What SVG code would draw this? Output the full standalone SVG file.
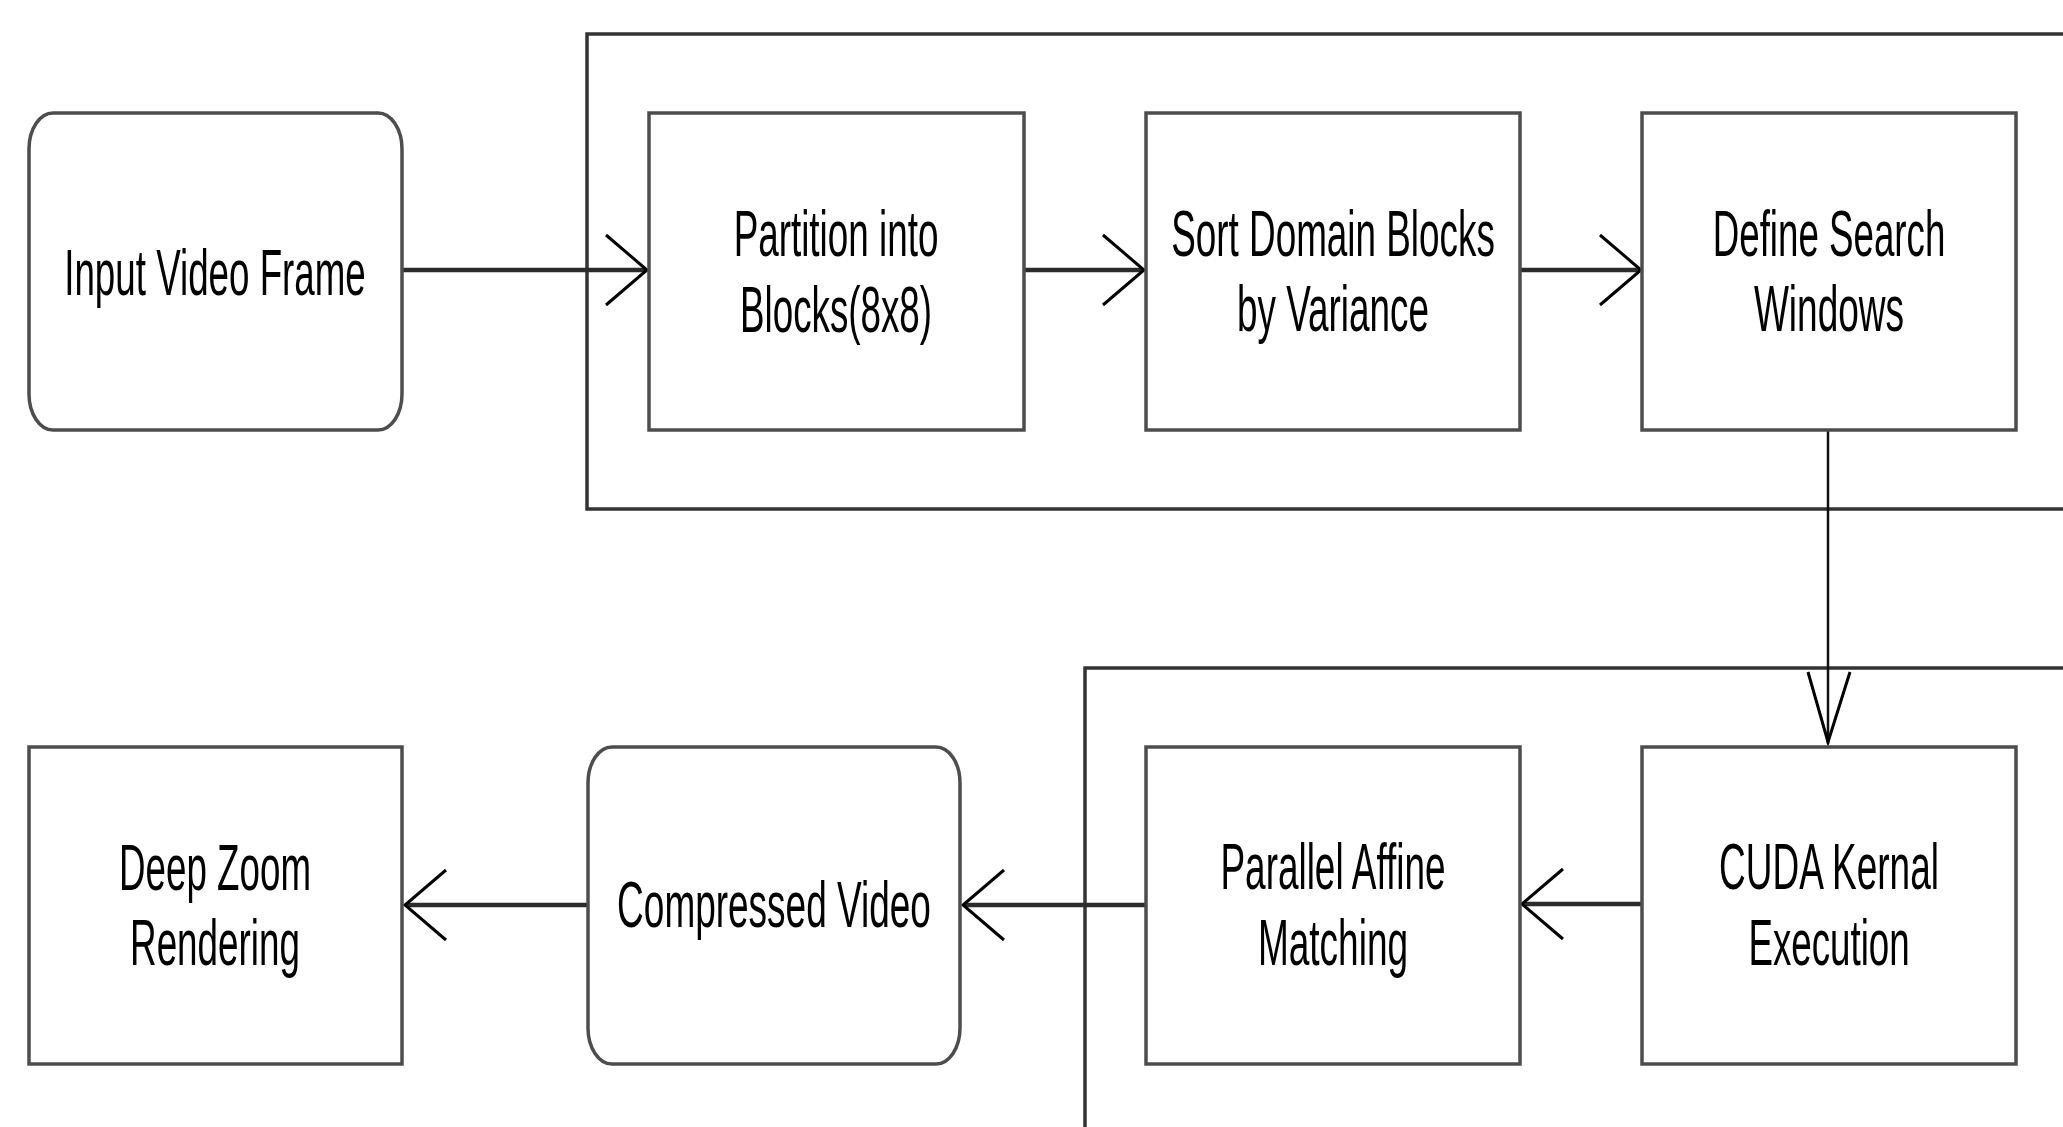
<svg xmlns="http://www.w3.org/2000/svg" width="2063" height="1127" viewBox="0 0 2063 1127">
<style>
.frame{fill:none;stroke:#333;stroke-width:3.5}
.box{fill:#fff;stroke:#4d4d4d;stroke-width:3.5}
.lbl{font-family:"Liberation Sans",Arial,sans-serif;font-size:64px;fill:#000;text-anchor:middle}
.edge{fill:none;stroke:#2b2b2b;stroke-width:4.5}
.thin{fill:none;stroke:#111;stroke-width:2.5}
.head{fill:none;stroke:#000;stroke-width:3;stroke-linejoin:miter}
</style>
<rect width="2063" height="1127" fill="#fff"/>
<g id="frame-top"><rect class="frame" x="587" y="34" width="1520" height="475"/></g>
<g id="frame-bottom"><rect class="frame" x="1085" y="668" width="1020" height="520"/></g>
<g id="connectors">
<line class="edge" x1="402" y1="270" x2="645" y2="270"/>
<path class="head" d="M606,235 L647,270 L606,305"/>
<line class="edge" x1="1024" y1="270" x2="1142" y2="270"/>
<path class="head" d="M1103,235 L1144,270 L1103,305"/>
<line class="edge" x1="1520" y1="270" x2="1639" y2="270"/>
<path class="head" d="M1600,235 L1641,270 L1600,305"/>
<line class="thin" x1="1828" y1="430" x2="1828" y2="744"/>
<path class="head" d="M1808,672 L1828,742 L1850,672"/>
<line class="edge" x1="1642" y1="904" x2="1524" y2="904"/>
<path class="head" d="M1563,869 L1522,904 L1563,939"/>
<line class="edge" x1="1146" y1="905" x2="964" y2="905"/>
<path class="head" d="M1004,870 L963,905 L1004,940"/>
<line class="edge" x1="588" y1="905" x2="406" y2="905"/>
<path class="head" d="M446,870 L405,905 L446,940"/>
</g>
<g id="input-video-frame">
<rect class="box" x="29" y="113" width="373" height="317" rx="24" ry="36"/>
<text class="lbl" transform="translate(215,295) scale(0.58,1)" textLength="520" lengthAdjust="spacingAndGlyphs">Input Video Frame</text>
</g>
<g id="partition">
<rect class="box" x="649" y="113" width="375" height="317"/>
<text class="lbl" transform="translate(836,256) scale(0.58,1)" textLength="353" lengthAdjust="spacingAndGlyphs">Partition into</text>
<text class="lbl" transform="translate(836,332) scale(0.58,1)" textLength="331" lengthAdjust="spacingAndGlyphs">Blocks(8x8)</text>
</g>
<g id="sort-domain">
<rect class="box" x="1146" y="113" width="374" height="317"/>
<text class="lbl" transform="translate(1333,256) scale(0.58,1)" textLength="558" lengthAdjust="spacingAndGlyphs">Sort Domain Blocks</text>
<text class="lbl" transform="translate(1333,331) scale(0.58,1)" textLength="331" lengthAdjust="spacingAndGlyphs">by Variance</text>
</g>
<g id="define-search">
<rect class="box" x="1642" y="113" width="374" height="317"/>
<text class="lbl" transform="translate(1829,256) scale(0.58,1)" textLength="401" lengthAdjust="spacingAndGlyphs">Define Search</text>
<text class="lbl" transform="translate(1829,331) scale(0.58,1)" textLength="259" lengthAdjust="spacingAndGlyphs">Windows</text>
</g>
<g id="cuda-kernal">
<rect class="box" x="1642" y="747" width="374" height="317"/>
<text class="lbl" transform="translate(1829,889) scale(0.58,1)" textLength="379" lengthAdjust="spacingAndGlyphs">CUDA Kernal</text>
<text class="lbl" transform="translate(1829,965) scale(0.58,1)" textLength="278" lengthAdjust="spacingAndGlyphs">Execution</text>
</g>
<g id="parallel-affine">
<rect class="box" x="1146" y="747" width="374" height="317"/>
<text class="lbl" transform="translate(1333,889) scale(0.58,1)" textLength="388" lengthAdjust="spacingAndGlyphs">Parallel Affine</text>
<text class="lbl" transform="translate(1333,965) scale(0.58,1)" textLength="259" lengthAdjust="spacingAndGlyphs">Matching</text>
</g>
<g id="compressed-video">
<rect class="box" x="588" y="747" width="372" height="317" rx="24" ry="36"/>
<text class="lbl" transform="translate(774,927) scale(0.58,1)" textLength="541" lengthAdjust="spacingAndGlyphs">Compressed Video</text>
</g>
<g id="deep-zoom">
<rect class="box" x="29" y="747" width="373" height="317"/>
<text class="lbl" transform="translate(215,890) scale(0.58,1)" textLength="331" lengthAdjust="spacingAndGlyphs">Deep Zoom</text>
<text class="lbl" transform="translate(215,965) scale(0.58,1)" textLength="293" lengthAdjust="spacingAndGlyphs">Rendering</text>
</g>
</svg>
